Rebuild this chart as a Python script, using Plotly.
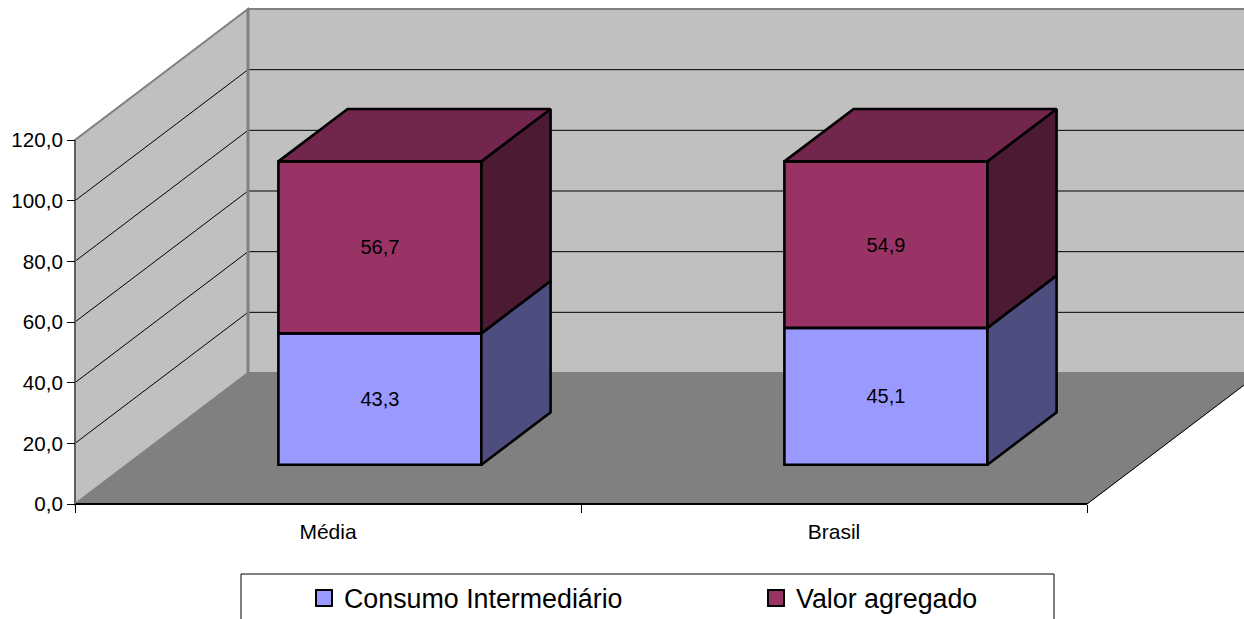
import plotly.graph_objects as go

categories = ["Média", "Brasil"]
consumo = [43.3, 45.1]
valor = [56.7, 54.9]
consumo_labels = ["43,3", "45,1"]
valor_labels = ["56,7", "54,9"]
y_ticks = [0, 20, 40, 60, 80, 100, 120]
y_tick_labels = ["0,0", "20,0", "40,0", "60,0", "80,0", "100,0", "120,0"]

W, H = 1244, 619
X0_PX, Y0_PX = 75, 504
PX_PER_CAT = 506
PX_PER_VAL = 364 / 120
DEPTH_X = 173 / PX_PER_CAT      # oblique depth in category units
DEPTH_Y = 131 / PX_PER_VAL      # oblique depth in value units
BAR_W = 203 / PX_PER_CAT
D_FRONT, D_BACK = 0.3, 0.7
YMAX = 120
FONT = "Liberation Sans, Arial, sans-serif"
EDGE = 2.6


def proj(cat, val, depth):
    return cat + depth * DEPTH_X, val + depth * DEPTH_Y


def path(points):
    pts = [proj(*p) for p in points]
    return "M" + "L".join(f"{x},{y}" for x, y in pts) + "Z"


shapes = []
# walls and floor
shapes.append(dict(type="path", path=path([(0, 0, 0), (0, YMAX, 0), (0, YMAX, 1), (0, 0, 1)]),
                   fillcolor="#C0C0C0", line=dict(color="#808080", width=2), layer="below"))
shapes.append(dict(type="path", path=path([(0, 0, 1), (0, YMAX, 1), (2, YMAX, 1), (2, 0, 1)]),
                   fillcolor="#C0C0C0", line=dict(color="#808080", width=2), layer="below"))
shapes.append(dict(type="path", path=path([(0, 0, 0), (2, 0, 0), (2, 0, 1), (0, 0, 1)]),
                   fillcolor="#808080", line=dict(color="#808080", width=1), layer="below"))
# gridlines
for v in y_ticks[1:-1]:
    x1, y1 = proj(0, v, 0)
    x2, y2 = proj(0, v, 1)
    x3, y3 = proj(2, v, 1)
    shapes.append(dict(type="path", path=f"M{x1},{y1}L{x2},{y2}L{x3},{y3}",
                       line=dict(color="#000000", width=1), layer="below"))
# redraw the wall corner, floor right edge
x1, y1 = proj(0, 0, 1)
x2, y2 = proj(0, YMAX, 1)
shapes.append(dict(type="line", x0=x1, y0=y1, x1=x2, y1=y2, line=dict(color="#808080", width=3), layer="below"))
x1, y1 = proj(2, 0, 0)
x2, y2 = proj(2, 0, 1)
shapes.append(dict(type="line", x0=x1, y0=y1, x1=x2, y1=y2, line=dict(color="#000000", width=1), layer="below"))
# legend frame
shapes.append(dict(type="rect", xref="paper", yref="paper", x0=241 / W, x1=1054 / W,
                   y0=-0.01, y1=1 - 574 / H, line=dict(color="#000000", width=1),
                   fillcolor="#FFFFFF", layer="below"))

fig = go.Figure()
centers = [i + 0.5 for i in range(len(categories))]
bar_x = [c + D_FRONT * DEPTH_X for c in centers]
base0 = D_FRONT * DEPTH_Y


def side_traces(bottoms, heights, side_color, top_color=None):
    for c, b, h in zip(centers, bottoms, heights):
        xr = c + BAR_W / 2
        xl = c - BAR_W / 2
        pts = [(xr, b, D_FRONT), (xr, b + h, D_FRONT), (xr, b + h, D_BACK), (xr, b, D_BACK), (xr, b, D_FRONT)]
        xs, ys = zip(*[proj(*p) for p in pts])
        fig.add_trace(go.Scatter(x=xs, y=ys, mode="lines", fill="toself", fillcolor=side_color,
                                 line=dict(color="#000000", width=EDGE), showlegend=False, hoverinfo="skip"))
        if top_color:
            pts = [(xl, b + h, D_FRONT), (xr, b + h, D_FRONT), (xr, b + h, D_BACK), (xl, b + h, D_BACK), (xl, b + h, D_FRONT)]
            xs, ys = zip(*[proj(*p) for p in pts])
            fig.add_trace(go.Scatter(x=xs, y=ys, mode="lines", fill="toself", fillcolor=top_color,
                                     line=dict(color="#000000", width=EDGE), showlegend=False, hoverinfo="skip"))


fig.add_trace(go.Bar(x=bar_x, y=consumo, base=[base0] * len(consumo), width=BAR_W,
                     marker=dict(color="#9999FF", line=dict(color="#000000", width=EDGE)),
                     text=consumo_labels, textposition="inside", insidetextanchor="middle",
                     textangle=0, insidetextfont=dict(color="#000000", size=20, family=FONT),
                     showlegend=False, hoverinfo="skip"))
fig.add_trace(go.Bar(x=bar_x, y=valor, base=[base0 + v for v in consumo], width=BAR_W,
                     marker=dict(color="#993366", line=dict(color="#000000", width=EDGE)),
                     text=valor_labels, textposition="inside", insidetextanchor="middle",
                     textangle=0, insidetextfont=dict(color="#000000", size=20, family=FONT),
                     showlegend=False, hoverinfo="skip"))
side_traces([0, 0], consumo, "#4D4D80")
side_traces(consumo, valor, "#4D1A33", "#73264D")

# legend keys
for name, color in [("Consumo Intermediário", "#9999FF"), ("Valor agregado", "#993366")]:
    fig.add_trace(go.Scatter(x=[None], y=[None], mode="markers", name=name,
                             marker=dict(symbol="square", size=16, color=color, line=dict(color="#000000", width=2))))

# the axis line pieces
fig.add_trace(go.Scatter(x=[0, 2], y=[0, 0], mode="lines", line=dict(color="#000000", width=2), showlegend=False, hoverinfo="skip"))
fig.add_trace(go.Scatter(x=[0, 0], y=[0, YMAX], mode="lines", line=dict(color="#606060", width=2), showlegend=False, hoverinfo="skip"))

x_lo = -X0_PX / PX_PER_CAT
x_hi = (W - X0_PX) / PX_PER_CAT
y_lo = -(H - Y0_PX) / PX_PER_VAL
y_hi = Y0_PX / PX_PER_VAL

fig.update_layout(
    width=W, height=H, autosize=False,
    margin=dict(l=0, r=0, t=0, b=0, autoexpand=False),
    paper_bgcolor="#FFFFFF", plot_bgcolor="rgba(0,0,0,0)",
    barmode="overlay", shapes=shapes,
    font=dict(family=FONT, color="#000000", size=20),
    xaxis=dict(range=[x_lo, x_hi], domain=[0, 1], anchor="free", position=(H - Y0_PX) / H,
               showgrid=False, zeroline=False, showline=False,
               tickmode="array", tickvals=centers, ticktext=categories, ticks="", ticklen=0,
               ticklabelstandoff=13, tickfont=dict(size=21, family=FONT),
               minor=dict(tickmode="array", tickvals=[0, 1, 2], ticks="outside", ticklen=8, tickcolor="#000000", tickwidth=1)),
    yaxis=dict(range=[y_lo, y_hi], domain=[0, 1], anchor="free", position=X0_PX / W,
               showgrid=False, zeroline=False, showline=False,
               tickmode="array", tickvals=y_ticks, ticktext=y_tick_labels, ticks="outside",
               ticklen=8, tickcolor="#000000", tickwidth=1, tickfont=dict(size=20.6, family=FONT)),
    legend=dict(orientation="h", x=312 / W, xanchor="left", y=1 - 598 / H, yanchor="middle",
                bgcolor="rgba(0,0,0,0)", borderwidth=0, entrywidth=415, entrywidthmode="pixels",
                indentation=-8, font=dict(size=26.8, family=FONT), itemclick=False, itemdoubleclick=False),
)

fig.write_html("out.html", config=dict(displayModeBar=False),
               post_script="document.body.style.margin='0';document.body.style.overflow='hidden';")
